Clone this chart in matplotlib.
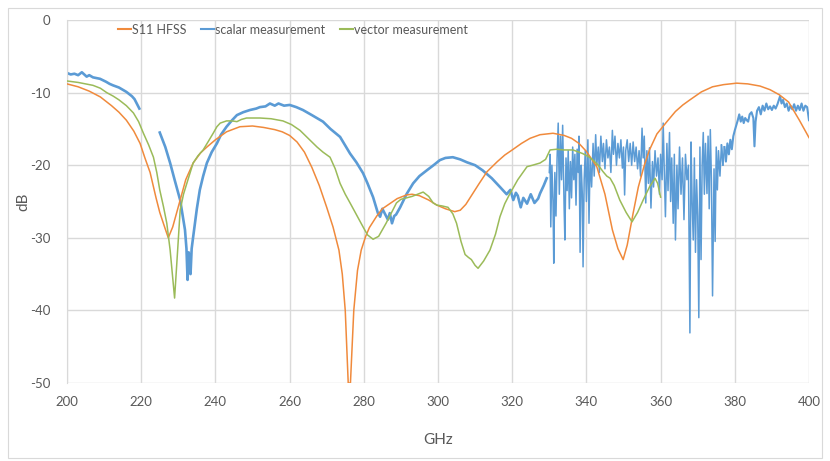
import numpy as np
import matplotlib
matplotlib.use("Agg")
import matplotlib.pyplot as plt
from matplotlib.patches import Rectangle

plt.rcParams['font.family'] = ['Lato', 'DejaVu Sans']
plt.rcParams['axes.unicode_minus'] = False

# S11 HFSS simulation (GHz, dB)
hfss_f = [200, 203, 206, 209, 212, 214, 216, 218, 219.7, 221, 222.4, 224, 225, 226.3, 227.3,
          228.5, 230.5, 232, 234, 236, 237.7, 240, 243, 246.6, 250, 253, 256, 258, 260, 262,
          264, 266, 268, 270, 271.7, 273.3, 274.2, 275, 275.8, 276.4, 277.3, 278.3, 279.3, 280.5,
          281.5, 283.5, 285, 287, 289, 291.5, 293, 295, 297.5, 299.7, 302, 304.5, 306, 307.5,
          309, 311, 313.2, 316, 318, 320, 322.5, 324.8, 327.5, 331, 334, 336, 338, 340, 342.8,
          345, 347, 348.5, 349.9, 351, 352.6, 354, 355.5, 357, 359, 361.7, 364, 366, 367.9, 371,
          374, 377, 380.5, 383.5, 386.8, 389.5, 392, 394.5, 397.4, 400]
hfss_db = [-8.8, -9.2, -9.8, -10.6, -11.8, -12.7, -13.8, -15.3, -17.0, -19.0, -21.0, -24.5, -26.5, -28.5, -30.0,
           -28.5, -24.8, -22.0, -19.7, -18.3, -17.5, -16.5, -15.4, -14.7, -14.6, -14.8, -15.1, -15.4, -15.9, -16.8,
           -18.2, -20.3, -22.8, -25.8, -28.5, -31.7, -35.0, -40.0, -50.0, -50.0, -40.0, -34.5, -31.7, -29.8,
           -28.6, -27.0, -26.0, -25.3, -24.6, -24.1, -24.0, -24.2, -24.8, -25.5, -26.0, -26.4, -26.2, -25.4,
           -24.2, -22.6, -20.9, -19.5, -18.6, -17.9, -17.0, -16.3, -15.8, -15.6, -15.9, -16.3, -17.0, -18.1, -20.2,
           -24.0, -28.9, -31.5, -33.0, -31.0, -26.6, -23.0, -20.2, -17.9, -15.7, -14.0, -12.6, -11.7, -11.0, -9.9,
           -9.2, -8.9, -8.7, -8.8, -9.1, -9.6, -10.3, -11.3, -13.8, -16.2]

# vector measurement
vec_f = [200, 203, 207, 209, 210.7, 212.5, 214, 216, 217.9, 219.3, 220.6, 222, 223.3, 224.2, 225,
         226, 226.9, 227.8, 228.4, 229, 229.6, 230.5, 231.4, 232.3, 234, 235.3, 236.7, 238, 239.4,
         240.4, 241.3, 243, 244.5, 245.8, 247, 248.4, 252, 255, 258.2, 260.5, 262.8, 265, 267.4,
         269, 270.9, 272.3, 273.6, 275, 276.3, 278, 279.8, 281, 282.5, 284, 286, 287.5, 288.8,
         290, 291.5, 293, 294.5, 296, 297.5, 298.7, 299.7, 301, 302.7, 304, 305, 306.2, 307.3,
         308.2, 309, 310, 310.8, 312.3, 314, 315.5, 316.7, 318, 319.4, 321.5, 324, 325.5, 327.5,
         329, 330.2, 332, 334, 336.4, 339, 340.5, 341.8, 343.2, 344.5, 345.5, 346.4, 347.5, 349,
         350.7, 352.3, 353.8, 355.3, 357, 358.5, 359.2, 360]
vec_db = [-8.4, -8.6, -9.0, -9.4, -10.0, -10.5, -11.0, -11.8, -12.8, -14.0, -15.6, -17.2, -18.9, -21.0, -23.4,
          -25.7, -28.0, -31.7, -35.0, -38.3, -33.5, -26.2, -24.0, -22.5, -19.7, -18.7, -17.9, -16.8, -15.6,
          -14.7, -14.2, -13.9, -13.9, -14.0, -13.7, -13.5, -13.5, -13.6, -13.9, -14.4, -15.2, -16.3, -17.5,
          -18.2, -18.9, -20.5, -22.5, -24.0, -25.2, -26.8, -28.5, -29.6, -30.2, -29.8, -28.0, -26.5, -25.2,
          -24.7, -24.5, -24.3, -24.0, -23.7, -24.3, -25.2, -25.5, -25.6, -25.8, -26.7, -28.0, -30.5, -32.3,
          -32.7, -33.0, -33.8, -34.2, -33.2, -31.7, -29.5, -27.1, -25.3, -23.9, -22.0, -20.2, -20.0, -19.7,
          -19.2, -17.9, -17.8, -17.9, -17.9, -18.4, -18.8, -19.3, -20.0, -20.9, -21.5, -21.8, -22.8, -24.8,
          -26.5, -27.8, -26.5, -24.8, -23.0, -21.8, -22.5, -24.4]

# scalar measurement, smooth part (gap between 219.5 and 225 GHz)
sc_f = [200, 201, 202, 203, 204, 205.3, 206, 207, 208.9, 210.5, 211.5, 212.4, 214, 215, 216, 217.5,
        218.2, 218.8, 219.5, 222,
        225, 226.5, 227.8, 229, 230.5, 231.8, 232.2, 232.5, 232.8, 233, 233.3, 233.6, 234, 235,
        235.8, 236.7, 237.7, 239, 240.4, 241.5, 243, 244.5, 245.8, 247.5, 249.3, 251, 252, 253.5,
        254.7, 256, 257, 258.5, 260, 261.8, 263.6, 266, 269, 271, 273.6, 276.3, 278, 279.8, 281,
        282.5, 283.8, 284.4, 285, 285.5, 286.5, 287, 287.6, 288.2, 288.7, 289.8, 291.5, 293.3, 295,
        297, 298.8, 300.5, 302, 304, 306, 307.8, 310, 312, 314.5, 316.7, 318.5, 319.5, 320.3,
        321, 321.5, 322.3, 323, 324, 325, 326, 327, 327.5, 328.5, 329.3]
sc_db = [-7.3, -7.5, -7.4, -7.6, -7.2, -7.8, -7.6, -7.9, -8.1, -8.5, -8.8, -9.0, -9.3, -9.6, -9.9, -10.5,
         -10.9, -11.5, -12.2, np.nan,
         -15.5, -17.5, -19.7, -22.0, -24.8, -28.9, -31.5, -35.8, -32.0, -33.0, -35.0, -31.5, -29.9, -26.0,
         -23.4, -21.5, -19.7, -18.2, -17.0, -15.8, -14.7, -13.8, -13.1, -12.7, -12.4, -12.2, -12.0, -11.9,
         -11.5, -11.8, -11.5, -11.8, -11.7, -12.0, -12.4, -13.1, -14.0, -15.0, -16.1, -18.4, -19.6, -21.1, -22.5,
         -24.4, -26.6, -27.1, -26.0, -26.5, -27.5, -26.6, -28.0, -27.0, -26.8, -25.8, -24.0, -22.5, -21.5,
         -20.7, -20.0, -19.3, -19.0, -18.9, -19.2, -19.6, -20.0, -20.7, -21.8, -23.0, -24.0, -23.4, -24.8,
         -23.8, -24.2, -25.8, -24.5, -25.3, -24.0, -25.2, -24.6, -23.9, -22.8, -21.8]

# scalar measurement, noisy part above 330 GHz
nz_f = [330.0, 330.2, 330.4, 330.7, 331.0, 331.2, 331.5, 331.8, 332.1, 332.4, 332.7, 333.0, 333.3,
        333.6, 334.0, 334.2, 334.5, 334.8, 335.1, 335.4, 335.7, 336.0, 336.3, 336.6, 336.9, 337.2,
        337.5, 337.8, 338.0, 338.3, 338.6, 338.9, 339.1, 339.4, 339.7, 340.0, 340.4, 340.7, 341.0,
        341.4, 341.8, 342.1, 342.5, 342.8, 343.2, 343.5, 343.9, 344.3, 344.6, 345.0, 345.4, 345.8,
        346.2, 346.6, 347.0, 347.3, 347.7, 348.1, 348.5, 348.9, 349.3, 349.7, 350.0, 350.3, 350.6,
        351.0, 351.4, 351.8, 352.2, 352.6, 353.0, 353.4, 353.8, 354.2, 354.6, 355.0, 355.3, 355.6,
        356.0, 356.3, 356.7, 357.0, 357.4, 357.8, 358.1, 358.5, 358.9, 359.3, 359.7, 360.0, 360.4,
        360.7, 361.0, 361.3, 361.7, 362.0, 362.4, 362.7, 363.0, 363.4, 363.7, 364.0, 364.4, 364.7,
        365.1, 365.5, 365.9, 366.3, 366.7, 367.1, 367.5, 367.9, 368.2, 368.5, 368.8, 369.1, 369.4,
        369.7, 370.0, 370.3, 370.6, 370.9, 371.2, 371.5, 371.8, 372.1, 372.5, 372.8, 373.1, 373.4,
        373.7, 374.0, 374.4, 374.7, 375.0, 375.3, 375.6, 376.0, 376.4, 376.8]
nz_db = [-21.0, -18.5, -28.5, -20.0, -25.0, -33.5, -21.0, -27.0, -19.0, -14.2, -24.0, -16.0, -22.0,
         -14.5, -26.0, -30.3, -19.0, -23.5, -18.0, -26.0, -19.5, -24.5, -17.5, -22.0, -18.5, -25.5,
         -17.8, -21.0, -16.0, -32.0, -20.0, -24.0, -34.0, -22.0, -18.0, -25.0, -16.5, -28.0, -19.0,
         -23.0, -17.0, -21.5, -15.8, -20.0, -17.5, -21.0, -16.0, -19.5, -17.0, -20.5, -16.5, -19.0,
         -17.5, -21.0, -15.2, -18.5, -16.0, -20.0, -17.0, -19.0, -16.5, -20.4, -17.5, -24.1, -18.0,
         -16.5, -19.5, -17.0, -20.0, -16.8, -19.5, -17.5, -20.5, -18.0, -21.5, -14.9, -19.0, -16.0,
         -25.2, -18.0, -22.5, -17.6, -25.9, -19.5, -23.0, -18.0, -21.5, -19.0, -24.0, -18.5, -22.0,
         -14.2, -21.0, -27.1, -17.0, -23.5, -15.5, -25.0, -19.0, -28.0, -18.5, -30.3, -20.0, -26.0,
         -17.5, -24.0, -19.0, -27.5, -18.5, -22.0, -20.0, -43.1, -16.8, -25.0, -30.3, -19.0, -32.0,
         -22.0, -27.0, -41.0, -17.5, -33.0, -20.0, -15.5, -24.0, -17.0, -23.9, -16.0, -26.0, -15.1,
         -22.0, -38.0, -20.5, -30.5, -17.5, -23.4, -18.0, -21.5, -17.2, -20.0]

# scalar measurement, upper band
hi_f = [377.2, 377.6, 378.0, 378.4, 378.8, 379.2, 379.6, 380.0, 380.4, 380.8, 381.2, 381.6, 382.0,
        382.4, 382.8, 383.2, 383.6, 384.0, 384.5, 385.0, 385.3, 385.6, 386.0, 386.5, 387.0, 387.5,
        388.0, 388.5, 389.0, 389.5, 390.0, 390.5, 391.0, 391.5, 392.2, 392.6, 393.0, 393.5, 394.0,
        394.5, 395.0, 395.5, 396.0, 396.5, 397.0, 397.5, 398.0, 398.5, 399.0, 399.5, 400.0]
hi_db = [-17.5, -19.5, -17.0, -18.5, -16.5, -17.8, -16.0, -15.2, -14.5, -13.8, -13.0, -14.0, -13.3,
         -14.2, -13.5, -13.8, -14.0, -13.0, -12.7, -13.5, -17.4, -14.0, -12.5, -12.0, -13.0, -11.8,
         -12.5, -11.5, -12.3, -11.9, -12.4, -11.8, -12.2, -11.6, -10.5, -11.5, -11.0, -12.0, -11.5,
         -12.5, -11.8, -12.3, -11.6, -12.5, -11.8, -12.4, -11.5, -12.5, -11.8, -12.0, -13.8]

c_orange = '#F08A3C'
c_blue = '#5B9BD5'
c_green = '#9BBB59'
c_grid = '#D9D9D9'
c_text = '#595959'

fig = plt.figure(figsize=(8.3, 4.61), dpi=100)
ax = fig.add_axes([67 / 830, 1 - 383 / 461, (809 - 67) / 830, (383 - 20) / 461])

# chart border
fig.patches.append(Rectangle((8 / 830, 3 / 461), 814 / 830, 450 / 461, transform=fig.transFigure,
                             fill=False, edgecolor='#D9D9D9', linewidth=0.8))

ax.plot(hfss_f, hfss_db, color=c_orange, lw=1.1, label='S11 HFSS', zorder=3)
ax.plot(sc_f, sc_db, color=c_blue, lw=1.9, label='scalar measurement', zorder=2)
ax.plot(nz_f, nz_db, color=c_blue, lw=1.1, zorder=2)
ax.plot(nz_f[-2:] + hi_f[:1], nz_db[-2:] + hi_db[:1], color=c_blue, lw=1.1, zorder=2)
ax.plot(hi_f, hi_db, color=c_blue, lw=1.5, zorder=2)
ax.plot(vec_f, vec_db, color=c_green, lw=1.1, label='vector measurement', zorder=3)

ax.set_xlim(200, 400)
ax.set_ylim(-50, 0)
ax.set_xticks(np.arange(200, 401, 20))
ax.set_yticks(np.arange(-50, 1, 10))
ax.grid(True, color=c_grid, lw=1)
ax.set_axisbelow(True)
ax.tick_params(length=0, labelsize=9.5, labelcolor=c_text)
ax.tick_params(axis='x', pad=9)
ax.tick_params(axis='y', pad=12)
for s in ax.spines.values():
    s.set_visible(False)
ax.spines['left'].set_visible(True)
ax.spines['left'].set_color(c_grid)

ax.set_xlabel('GHz', fontsize=11, color=c_text, labelpad=18)
ax.set_ylabel('dB', fontsize=11, color=c_text, labelpad=0)

leg = ax.legend(loc='upper left', bbox_to_anchor=(0.069, 0.99), ncol=3, frameon=False,
                fontsize=9, handlelength=1.0, handletextpad=0.1, columnspacing=1.2,
                borderpad=0, borderaxespad=0, labelcolor=c_text)
for h in leg.get_lines():
    h.set_linewidth(1.5)

fig.savefig('out.png', dpi=100)
